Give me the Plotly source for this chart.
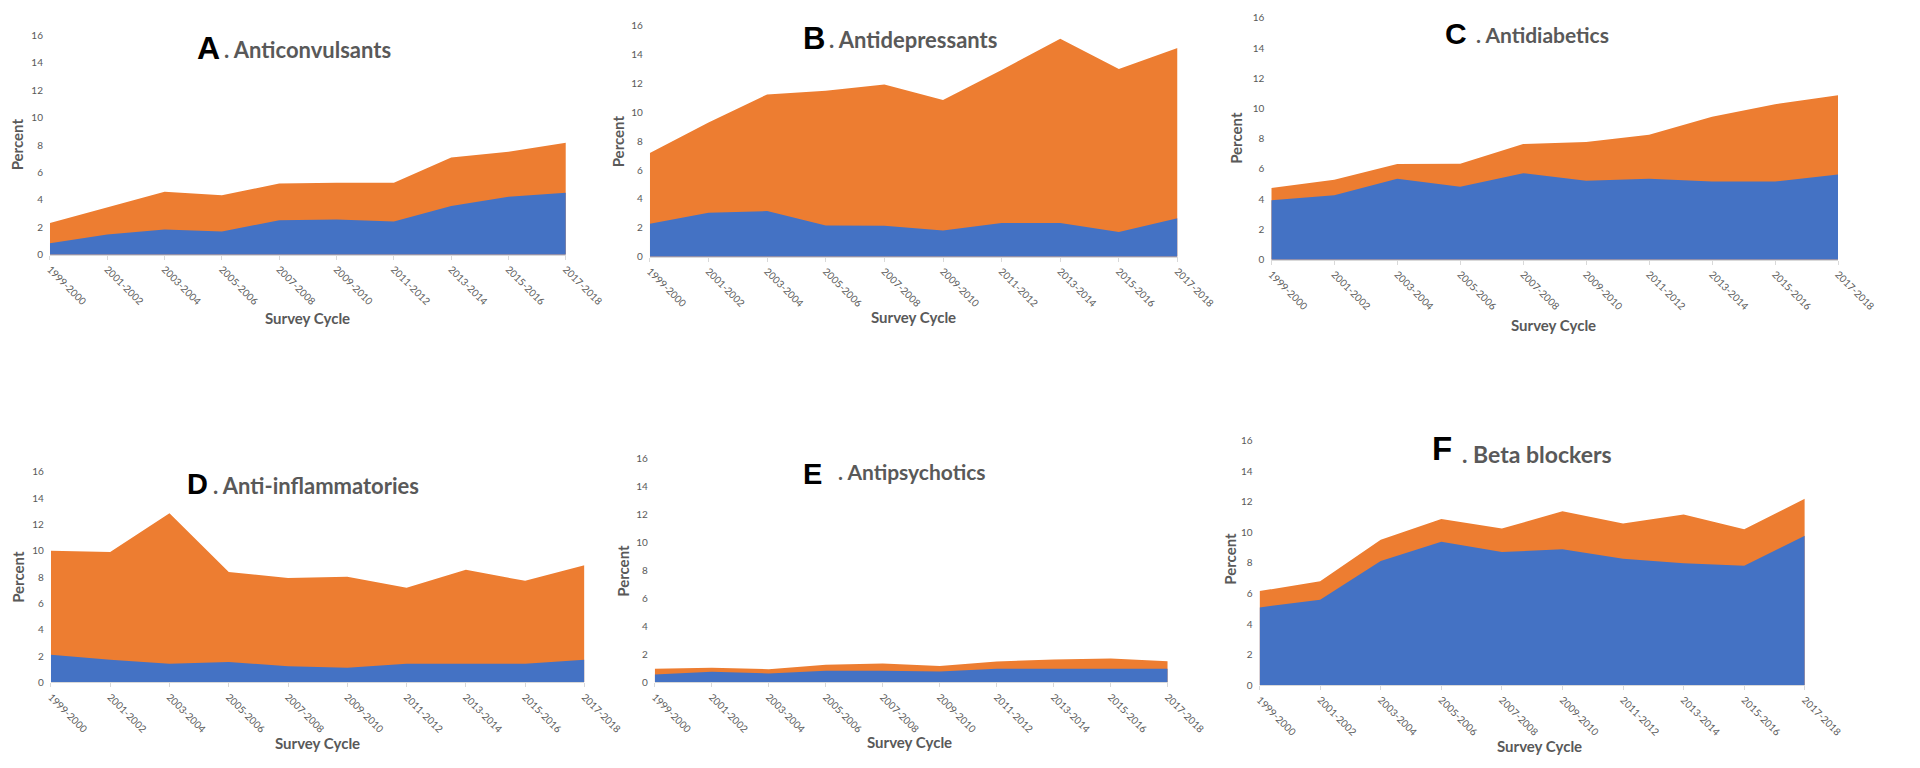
import plotly.graph_objects as go

cycles = ["1999-2000", "2001-2002", "2003-2004", "2005-2006", "2007-2008",
          "2009-2010", "2011-2012", "2013-2014", "2015-2016", "2017-2018"]

# Lower (blue) and upper (orange, top of stack) values per drug class, in percent
anticonvulsants_blue = [0.84, 1.48, 1.84, 1.70, 2.51, 2.58, 2.42, 3.56, 4.23, 4.52]
anticonvulsants_top = [2.32, 3.47, 4.59, 4.35, 5.19, 5.26, 5.26, 7.10, 7.51, 8.18]

antidepressants_blue = [2.28, 3.05, 3.16, 2.16, 2.14, 1.82, 2.34, 2.34, 1.71, 2.66]
antidepressants_top = [7.19, 9.29, 11.24, 11.49, 11.93, 10.86, 12.93, 15.09, 13.00, 14.45]

antidiabetics_blue = [3.93, 4.26, 5.35, 4.83, 5.72, 5.22, 5.35, 5.17, 5.17, 5.63]
antidiabetics_top = [4.74, 5.28, 6.33, 6.35, 7.65, 7.78, 8.26, 9.46, 10.28, 10.87]

antiinflammatories_blue = [2.10, 1.72, 1.42, 1.55, 1.22, 1.12, 1.42, 1.42, 1.42, 1.72]
antiinflammatories_top = [10.01, 9.91, 12.86, 8.39, 7.94, 8.04, 7.19, 8.56, 7.72, 8.91]

antipsychotics_blue = [0.57, 0.75, 0.64, 0.83, 0.83, 0.78, 0.97, 0.97, 0.97, 0.97]
antipsychotics_top = [0.97, 1.04, 0.94, 1.25, 1.34, 1.16, 1.49, 1.63, 1.70, 1.51]

betablockers_blue = [5.09, 5.60, 8.13, 9.39, 8.71, 8.90, 8.28, 7.98, 7.81, 9.78]
betablockers_top = [6.16, 6.80, 9.52, 10.87, 10.25, 11.38, 10.57, 11.17, 10.20, 12.19]

y_ticks = [0, 2, 4, 6, 8, 10, 12, 14, 16]

W, H = 1920, 768
BLUE = "#4472C4"
ORANGE = "#ED7D31"
GRAY = "#595959"
TXT_FONT = "Lato"

# panel geometry in pixels: x0, x1, y_top(16), y_bottom(0)
panels = [
    dict(letter="A", name=". Anticonvulsants", blue=anticonvulsants_blue, top=anticonvulsants_top,
         box=(46, 574, 29, 252), letter_pos=(194, 55, 32), name_pos=(222, 53, 22),
         pct=(12, 140), sc=(310, 316)),
    dict(letter="B", name=". Antidepressants", blue=antidepressants_blue, top=antidepressants_top,
         box=(660, 1200, 19, 254), letter_pos=(815, 45, 31), name_pos=(841, 43, 22),
         pct=(627, 137), sc=(930, 315)),
    dict(letter="C", name=". Antidiabetics", blue=antidiabetics_blue, top=antidiabetics_top,
         box=(1296, 1876, 11, 257), letter_pos=(1472, 39, 30), name_pos=(1503, 37, 21),
         pct=(1260, 133), sc=(1585, 323)),
    dict(letter="D", name=". Anti-inflammatories", blue=antiinflammatories_blue, top=antiinflammatories_top,
         box=(47, 593, 473, 687), letter_pos=(184, 497, 29), name_pos=(211, 497, 22),
         pct=(14, 580), sc=(320, 749)),
    dict(letter="E", name=". Antipsychotics", blue=antipsychotics_blue, top=antipsychotics_top,
         box=(665, 1190, 459, 687), letter_pos=(815, 487, 29), name_pos=(851, 482, 21),
         pct=(633, 573), sc=(926, 748)),
    dict(letter="F", name=". Beta blockers", blue=betablockers_blue, top=betablockers_top,
         box=(1284, 1842, 441, 690), letter_pos=(1458, 463, 33), name_pos=(1489, 465, 23),
         pct=(1253, 561), sc=(1571, 752)),
]

fig = go.Figure()
annotations = []
layout_axes = {}

for i, p in enumerate(panels):
    k = "" if i == 0 else str(i + 1)
    xref, yref = "x" + k, "y" + k
    x0, x1, yt, yb = p["box"]
    fig.add_trace(go.Scatter(x=cycles, y=p["top"], xaxis=xref, yaxis=yref, mode="lines",
                             line=dict(width=0, color=ORANGE), fill="tozeroy", fillcolor=ORANGE,
                             hoverinfo="skip", showlegend=False))
    fig.add_trace(go.Scatter(x=cycles, y=p["blue"], xaxis=xref, yaxis=yref, mode="lines",
                             line=dict(width=0, color=BLUE), fill="tozeroy", fillcolor=BLUE,
                             hoverinfo="skip", showlegend=False))
    layout_axes["xaxis" + k] = dict(
        domain=[x0 / W, x1 / W], anchor=yref, type="category", range=[0, len(cycles) - 1],
        tickmode="array", tickvals=cycles, ticktext=cycles, tickangle=45,
        ticks="outside", ticklen=4, tickcolor="#D9D9D9", showline=True, linecolor="#D9D9D9",
        linewidth=1, showgrid=False, zeroline=False,
        tickfont=dict(family=TXT_FONT, size=10, color=GRAY))
    layout_axes["yaxis" + k] = dict(
        domain=[1 - yb / H, 1 - yt / H], anchor=xref, range=[0, 16], tickvals=y_ticks,
        showgrid=False, zeroline=False, showline=False, ticks="", ticklabelstandoff=6,
        tickfont=dict(family=TXT_FONT, size=10, color=GRAY))
    lx, lby, lfs = p["letter_pos"]
    annotations.append(dict(text="<b>%s</b>" % p["letter"], xref="paper", yref="paper",
                            x=lx / W, y=1 - (lby + 0.22 * lfs) / H, xanchor="left", yanchor="bottom",
                            showarrow=False, font=dict(family="Liberation Sans", size=lfs, color="black")))
    nx, nby, nfs = p["name_pos"]
    annotations.append(dict(text="<b>%s</b>" % p["name"], xref="paper", yref="paper",
                            x=nx / W, y=1 - (nby + 0.25 * nfs) / H, xanchor="left", yanchor="bottom",
                            showarrow=False, font=dict(family=TXT_FONT, size=nfs, color=GRAY)))
    px_, py_ = p["pct"]
    annotations.append(dict(text="<b>Percent</b>", xref="paper", yref="paper",
                            x=px_ / W, y=1 - py_ / H, xanchor="center", yanchor="middle",
                            textangle=-90, showarrow=False,
                            font=dict(family=TXT_FONT, size=15, color=GRAY)))
    sx, sy = p["sc"]
    annotations.append(dict(text="<b>Survey Cycle</b>", xref="paper", yref="paper",
                            x=sx / W, y=1 - sy / H, xanchor="center", yanchor="middle",
                            showarrow=False, font=dict(family=TXT_FONT, size=15, color=GRAY)))

fig.update_layout(width=W, height=H, margin=dict(l=0, r=0, t=0, b=0), autosize=False,
                  paper_bgcolor="white", plot_bgcolor="white", annotations=annotations,
                  **layout_axes)

fig.write_html("out.html", config={"displayModeBar": False},
               post_script="document.body.style.margin='0';document.body.style.overflow='hidden';")
